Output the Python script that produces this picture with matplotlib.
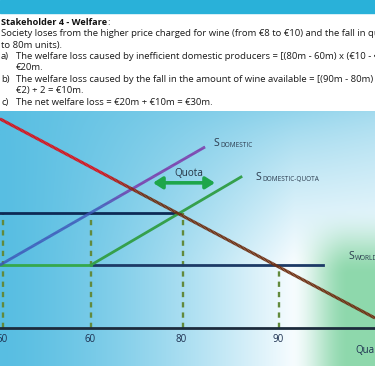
import numpy as np
import matplotlib
matplotlib.use("Agg")
import matplotlib.pyplot as plt
from matplotlib.collections import LineCollection
from matplotlib.colors import to_rgb
from matplotlib.patches import Rectangle

plt.rcParams['font.family'] = ['Open Sans', 'DejaVu Sans']
plt.rcParams['lines.scale_dashes'] = False

W, H, DPI = 375, 366, 100

# ---------------- data ----------------
title_bold = "Stakeholder 4 - Welfare"
body_lines = [
    ("", "Society loses from the higher price charged for wine (from €8 to €10) and the fall in quantity demanded (from 90m units"),
    ("", "to 80m units)."),
    ("a)", "The welfare loss caused by inefficient domestic producers = [(80m - 60m) x (€10 - €8)] ÷ 2 ="),
    ("", "€20m."),
    ("b)", "The welfare loss caused by the fall in the amount of wine available = [(90m - 80m) x (€10 -"),
    ("", "€2) + 2 = €10m."),
    ("c)", "The net welfare loss = €20m + €10m = €30m."),
]
body_indent = [False, False, True, True, True, True, True]

qty_labels = ["50", "60", "80", "90"]
qty_pos = [3, 91, 182.5, 279]          # schematic positions on the quantity axis
drop_to = [10, 10, 10, 8]              # price level each dashed guide rises to

p_world = 8
p_quota = 10
p_axis = 5.58

demand_x = [0, 375]
demand_p = [13.62, 5.96]
sdom_x = [0, 205]
sdom_p = [8.0, 12.54]
squota_x = [91, 241]
squota_p = [8.0, 11.385]
world_x = [91, 323]
world_green_x = [0, 91]
quota_price_x = [0, 180]
quota_arrow_x = [153, 215]
quota_arrow_p = 11.16

# ---------------- figure ----------------
fig = plt.figure(figsize=(W / DPI, H / DPI), dpi=DPI, facecolor="white")
fig.add_artist(Rectangle((0, 1 - 12.5 / H), 1, 12.5 / H, transform=fig.transFigure,
                         color="#29b1d9", zorder=0))

chart_top = 111
P_top = p_world + (265 - chart_top) / 26
P_bot = p_world - (H - 265) / 26

ax = fig.add_axes([0, 0, 1, (H - chart_top) / H])


def smooth(t):
    t = np.clip(t, 0, 1)
    return t * t * (3 - 2 * t)


# background gradient
nh, nw = H - chart_top, W
xx = np.linspace(0, 1, nw)[None, :] * W
yy = np.linspace(0, 1, nh)[:, None] * nh
c_left = np.array(to_rgb("#58bee2"))
c_tr = np.array(to_rgb("#a2daee"))
c_white = np.array([0.97, 0.99, 1.0])
c_green = np.array(to_rgb("#8ed8ac"))
t_top = (xx / W)[..., None]
top_row = c_left * (1 - t_top) + c_tr * t_top
tb = (np.clip(xx / 295, 0, 1) ** 1.4)[..., None]
bot_row = c_left * (1 - tb) + c_white * tb
s = (np.clip(yy / 150, 0, 1) ** 0.8)[..., None]
img = top_row * (1 - s) + bot_row * s
g = (smooth((xx - 290) / 60) * smooth((yy - 95) / 70))[..., None]
img = img * (1 - g) + c_green * g
ax.imshow(np.clip(img, 0, 1), extent=[0, W, P_bot, P_top], aspect="auto", zorder=0)
ax.set_xlim(0, W)
ax.set_ylim(P_bot, P_top)


def grad_line(x, p, c0, c1, x0, x1, lw, z):
    xs = np.linspace(x[0], x[1], 300)
    ps = np.interp(xs, x, p)
    pts = np.column_stack([xs, ps]).reshape(-1, 1, 2)
    segs = np.concatenate([pts[:-1], pts[1:]], axis=1)
    tt = np.clip((xs[:-1] - x0) / (x1 - x0), 0, 1)[:, None]
    cols = np.array(to_rgb(c0)) * (1 - tt) + np.array(to_rgb(c1)) * tt
    lc = LineCollection(segs, colors=cols, linewidths=lw, zorder=z, capstyle="butt")
    ax.add_collection(lc)


# dashed guides
for xq, top in zip(qty_pos, drop_to):
    ax.plot([xq, xq], [p_axis, top], color="#628a3c", lw=1.7,
            linestyle=(0, (3.8, 3.6)), zorder=2)

# axis line
ax.plot([0, W], [p_axis, p_axis], color="#1c2b3c", lw=2.0, zorder=3)

# horizontal price lines
ax.plot(quota_price_x, [p_quota, p_quota], color="#0d2a55", lw=2.0, zorder=4)
ax.plot(world_x, [p_world, p_world], color="#1d3a66", lw=2.0, zorder=4)
ax.plot(world_green_x, [p_world, p_world], color="#35a84c", lw=2.0, zorder=4)

# supply curves
grad_line(sdom_x, sdom_p, "#3d55b8", "#7b2fa6", 95, 135, 2.0, 5)
ax.plot(squota_x, squota_p, color="#35a04c", lw=2.0, zorder=5)

# demand
grad_line(demand_x, demand_p, "#d8121b", "#6e2f12", 100, 145, 2.2, 6)

# quota arrow
ax.annotate("", xy=(quota_arrow_x[0], quota_arrow_p), xytext=(quota_arrow_x[1], quota_arrow_p),
            arrowprops=dict(arrowstyle="<|-|>,head_length=0.55,head_width=0.35",
                            color="#1ea64a", lw=2.6, shrinkA=0, shrinkB=0), zorder=7)
ax.text(188.5, p_world + (265 - 175.7) / 26, "Quota", fontsize=7.2, color="#263545",
        ha="center", va="baseline", zorder=7)


def s_label(x, ybase, sub):
    t = ax.text(x, p_world + (265 - ybase) / 26, "S", fontsize=7.6, color="#2b3b4e",
                va="baseline", zorder=7)
    ax.annotate(sub, xy=(1, 0), xycoords=t, xytext=(0.6, 0.2), textcoords="offset points",
                fontsize=4.7, color="#2b3b4e", va="bottom", ha="left", zorder=7)


s_label(213.5, 146, "DOMESTIC")
s_label(255.5, 180.5, "DOMESTIC-QUOTA")
s_label(348, 259, "WORLD")

# tick labels
for xq, lab in zip(qty_pos, qty_labels):
    ax.text(xq - 1, p_world - (342.5 - 265) / 26, lab, fontsize=7.0, color="#1d3050",
            ha="center", va="baseline", zorder=7)
ax.text(355, p_world - (353 - 265) / 26, "Quantity", fontsize=7.0, color="#1d3050",
        ha="left", va="baseline", zorder=7)

ax.set_axis_off()

# ---------------- text block ----------------
fs = 6.8
b0, step = 25, 11.37
tb_ = fig.text(1 / W, 1 - b0 / H, title_bold, fontsize=6.6, fontweight="bold",
               color="#111111", va="baseline")
fig.canvas.draw()
r = fig.canvas.get_renderer()
bb = tb_.get_window_extent(r)
fig.text((bb.x1 + 0.3) / W, 1 - b0 / H, ":", fontsize=fs, color="#1a1a1a", va="baseline")

for i, ((lab, line), ind) in enumerate(zip(body_lines, body_indent)):
    yb = 1 - (b0 + step * (i + 1)) / H
    if lab:
        fig.text(1 / W, yb, lab, fontsize=fs, color="#1a1a1a", va="baseline")
    fig.text((16 if ind else 1) / W, yb, line, fontsize=fs, color="#1a1a1a", va="baseline")

fig.savefig("out.png", dpi=DPI)
